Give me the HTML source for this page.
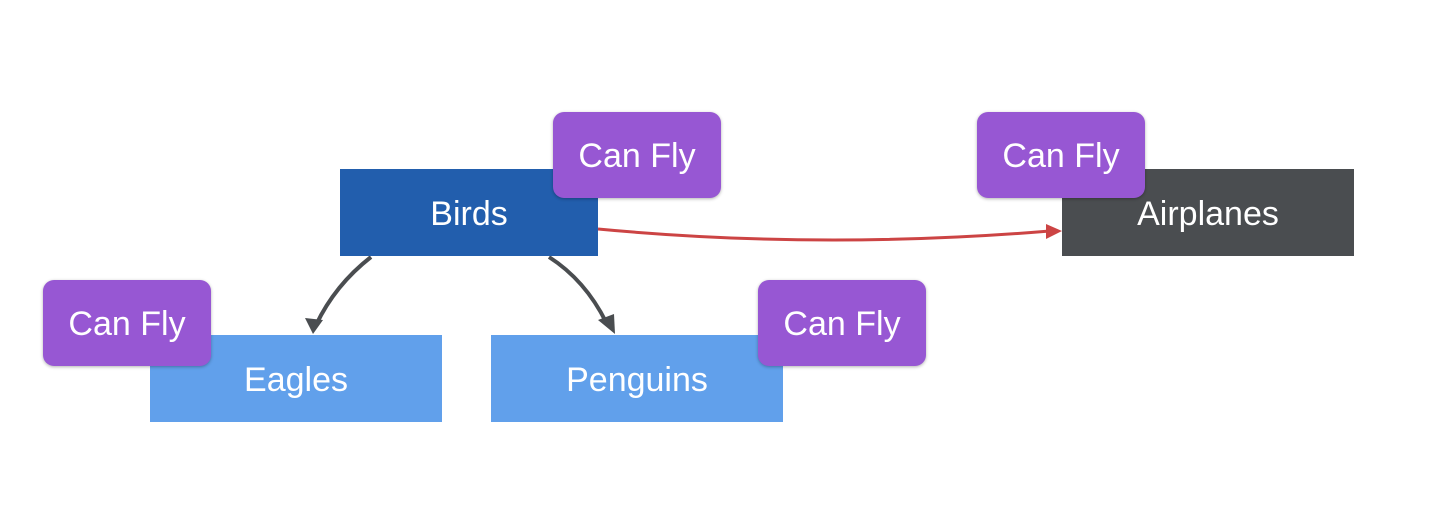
<!DOCTYPE html>
<html><head><style>
body{margin:0;width:1438px;height:506px;background:#fff;position:relative;overflow:hidden;font-family:"Liberation Sans",sans-serif;}
.b{position:absolute;color:#fff;display:flex;align-items:center;justify-content:center;font-size:34px;padding-top:3px;box-sizing:border-box;}
.c{background:#9757d3;border-radius:11px;box-shadow:0 1px 3px rgba(0,0,0,.3);width:168px;height:86px;}
</style></head><body>
<svg width="1438" height="506" style="position:absolute;left:0;top:0">
<path d="M371,257 Q335,285 316,325" stroke="#4a4d50" stroke-width="4" fill="none"/>
<path d="M305,318 L313,334 L323,320 z" fill="#4a4d50"/>
<path d="M549,257 Q585,280 606,322" stroke="#4a4d50" stroke-width="4" fill="none"/>
<path d="M598,320 L615,334 L614,314 z" fill="#4a4d50"/>
<path d="M598,229 Q820,250 1050,231" stroke="#cc4444" stroke-width="3" fill="none"/>
<path d="M1046,224 L1062,231 L1046,239 z" fill="#cc4444"/>
</svg>
<div class="b" style="left:340px;top:169px;width:258px;height:87px;background:#225ead">Birds</div>
<div class="b" style="left:150px;top:335px;width:292px;height:87px;background:#61a0eb">Eagles</div>
<div class="b" style="left:491px;top:335px;width:292px;height:87px;background:#61a0eb">Penguins</div>
<div class="b" style="left:1062px;top:169px;width:292px;height:87px;background:#4a4d50">Airplanes</div>
<div class="b c" style="left:553px;top:112px">Can Fly</div>
<div class="b c" style="left:977px;top:112px">Can Fly</div>
<div class="b c" style="left:43px;top:280px">Can Fly</div>
<div class="b c" style="left:758px;top:280px">Can Fly</div>
</body></html>
